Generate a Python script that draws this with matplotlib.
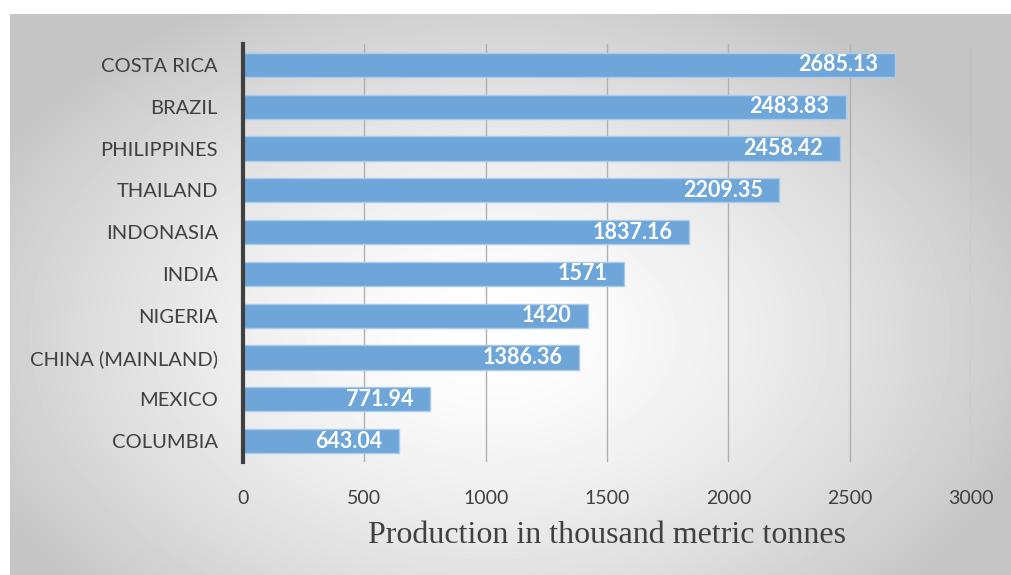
import matplotlib.pyplot as plt
import numpy as np

countries = ['COLUMBIA', 'MEXICO', 'CHINA (MAINLAND)', 'NIGERIA', 'INDIA',
             'INDONASIA', 'THAILAND', 'PHILIPPINES', 'BRAZIL', 'COSTA RICA']
production = [643.04, 771.94, 1386.36, 1420, 1571,
              1837.16, 2209.35, 2458.42, 2483.83, 2685.13]
labels = ['643.04', '771.94', '1386.36', '1420', '1571',
          '1837.16', '2209.35', '2458.42', '2483.83', '2685.13']
xticks = [0, 500, 1000, 1500, 2000, 2500, 3000]

fig = plt.figure(figsize=(10.12, 5.75), dpi=100)

# radial grey-to-white backdrop behind the chart area
bg = fig.add_axes([10/1012, 0, 1 - 10/1012, 1 - 14/575])
h, w = 561, 1002
yy, xx = np.mgrid[0:h, 0:w]
cx, cy = 480, 320
r = np.sqrt(((xx - cx) / 600.0) ** 2 + ((yy - cy) / 400.0) ** 2)
shade = np.clip(1.0 - 0.25 * r ** 1.5, 0.77, 1.0)
bg.imshow(shade, cmap='gray', vmin=0, vmax=1, aspect='auto',
          interpolation='bilinear')
bg.axis('off')

ax = fig.add_axes([243/1012, 1 - 462/575, (971 - 243)/1012, (462 - 44)/575])
ax.patch.set_alpha(0)

y = np.arange(len(countries))
ax.barh(y, production, height=0.58, color='#6fa6d9', edgecolor='#a9cbec',
        linewidth=1, zorder=3)

for yi, v, t in zip(y, production, labels):
    ax.text(v - 68, yi, t, ha='right', va='center', color='white',
            fontsize=15.5, fontweight='bold', family='Lato', zorder=4)

ax.set_xlim(0, 3000)
ax.set_ylim(-0.5, 9.5)
ax.set_xticks(xticks)
ax.set_xticklabels([str(t) for t in xticks], family='Lato', fontsize=14,
                   color='#404040')
ax.set_yticks(y)
ax.set_yticklabels(countries, family='Lato', fontsize=14.5, color='#404040')
ax.tick_params(axis='both', length=0)
ax.tick_params(axis='x', pad=20)
ax.tick_params(axis='y', pad=18)
ax.grid(axis='x', color='#b0b0b0', linewidth=1, zorder=0)

for s in ['top', 'right', 'bottom']:
    ax.spines[s].set_visible(False)
ax.spines['left'].set_color('#404040')
ax.spines['left'].set_linewidth(3)
ax.spines['left'].set_zorder(5)

ax.set_xlabel('Production in thousand metric tonnes', family='Liberation Serif',
              fontsize=23, color='#404040', labelpad=10)

fig.savefig('out.png', dpi=100)
